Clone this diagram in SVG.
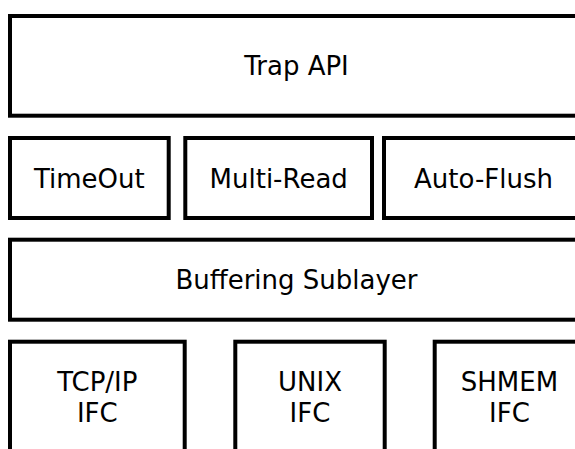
<svg xmlns="http://www.w3.org/2000/svg" width="575" height="449" viewBox="0 0 575 449">
<style>
.box{fill:#ffffff;stroke:#000000;stroke-width:4}
.lbl{font-family:"DejaVu Sans",sans-serif;font-size:26px;fill:#000000;text-anchor:middle}
</style>
<rect x="0" y="0" width="575" height="449" fill="#ffffff"/>
<g id="trap-api"><rect class="box" x="10" y="16" width="575" height="99.7"/><text class="lbl" x="296.5" y="75">Trap API</text></g>
<g id="timeout"><rect class="box" x="10" y="138" width="158.7" height="80"/><text class="lbl" x="89.3" y="187.5">TimeOut</text></g>
<g id="multi-read"><rect class="box" x="185.3" y="138" width="186.7" height="80"/><text class="lbl" x="278.7" y="187.5">Multi-Read</text></g>
<g id="auto-flush"><rect class="box" x="384" y="138" width="200" height="80"/><text class="lbl" x="483.5" y="187.5">Auto-Flush</text></g>
<g id="buffering"><rect class="box" x="10" y="239.7" width="575" height="80"/><text class="lbl" x="296.5" y="289">Buffering Sublayer</text></g>
<g id="tcpip"><rect class="box" x="10" y="341.7" width="174.7" height="120"/><text class="lbl" x="97.3" y="391">TCP/IP</text><text class="lbl" x="97.3" y="422">IFC</text></g>
<g id="unix"><rect class="box" x="235.3" y="341.7" width="149.4" height="120"/><text class="lbl" x="310" y="391">UNIX</text><text class="lbl" x="310" y="422">IFC</text></g>
<g id="shmem"><rect class="box" x="434.7" y="341.7" width="150" height="120"/><text class="lbl" x="509.5" y="391">SHMEM</text><text class="lbl" x="509.5" y="422">IFC</text></g>
<g id="connectors"></g>
</svg>
